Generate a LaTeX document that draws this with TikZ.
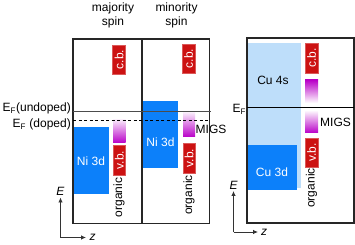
\documentclass[tikz,border=0pt]{standalone}
\usepackage{fontspec}
\setmainfont{Liberation Sans}
\usetikzlibrary{arrows.meta}
\definecolor{niblue}{RGB}{12,128,250}
\definecolor{lightblue}{RGB}{190,222,250}
\definecolor{bandred}{RGB}{204,18,18}
\definecolor{migs}{RGB}{185,0,200}
\definecolor{migslight}{RGB}{248,230,250}
\begin{document}
\begin{tikzpicture}[x=1pt,y=-1pt,
  font=\fontsize{12}{14}\selectfont,
  band/.style={inner sep=0pt,outer sep=0pt,anchor=north west},
  redband/.style={fill=bandred,draw=bandred!70!white,line width=0.5pt,text=white,rotate=90,inner sep=0pt,outer sep=0pt},
  migsdown/.style={band,top color=migslight,bottom color=migs},
  migsup/.style={band,top color=migs,bottom color=white},
  frame/.style={draw=black!85,line width=1.3pt},
  efline/.style={draw=black!70,line width=0.9pt},
  axis/.style={draw=black!80,line width=0.8pt,-{Latex[length=5pt,width=4.5pt]}},
  vlabel/.style={rotate=90,inner sep=0pt}]
\useasboundingbox (0,0) rectangle (355,245);
% ---------- left panel ----------
\node[band,fill=niblue,minimum width=36pt,minimum height=66.5pt] (ni1) at (73,127.5) {};
\node[text=white] (ni1t) at (91,161) {Ni 3d};
\node[band,fill=niblue,minimum width=35pt,minimum height=67pt] (ni2) at (143,101) {};
\node[text=white] (ni2t) at (160.5,142) {Ni 3d};
\node[redband,minimum width=29pt,minimum height=13pt] (cb1) at (119,59.5) {c.b.};
\node[redband,minimum width=29pt,minimum height=13pt] (cb2) at (188.5,58.5) {c.b.};
\node[migsdown,minimum width=12.5pt,minimum height=23pt] (mg1) at (113,120) {};
\node[migsdown,minimum width=12pt,minimum height=24pt] (mg2) at (183,113) {};
\node[redband,minimum width=30pt,minimum height=12.5pt] (vb1) at (119.25,160) {v.b.};
\node[redband,minimum width=30pt,minimum height=12pt] (vb2) at (189,158) {v.b.};
\node[vlabel] (org1) at (119,197.5) {organic};
\node[vlabel] (org2) at (189,195) {organic};
\draw[frame] (73,39) rectangle (209.5,223.5);
\draw[frame] (142,39) -- (142,223.5);
\coordinate (efuL) at (73,111);
\coordinate (efuR) at (211,111);
\draw[efline] (efuL) -- (efuR);
\coordinate (efdL) at (73,120);
\coordinate (efdR) at (210,120);
\draw[black,line width=0.8pt,dash pattern=on 3pt off 2.5pt] (efdL) -- (efdR);
\node[anchor=west,inner sep=0pt] (migs1) at (195.5,129.5) {MIGS};
\node[anchor=east,inner sep=0pt] (efu) at (71,108.5) {E\textsubscript{F}(undoped)};
\node[anchor=east,inner sep=0pt] (efd) at (71,124.5) {E\textsubscript{F} (doped)};
\node[align=center,inner sep=0pt] (maj) at (113,15.5) {majority\\spin};
\node[align=center,inner sep=0pt] (min) at (176.5,15.5) {minority\\spin};
% axes left
\coordinate (o1) at (60.5,237.5);
\coordinate (e1) at (60.5,197.5);
\coordinate (z1) at (86,237.5);
\draw[axis] (o1) -- (e1);
\draw[axis] (o1) -- (z1);
\node[inner sep=0pt] (E1) at (60.5,191) {\itshape E};
\node[inner sep=0pt] (zz1) at (92.5,237.5) {\itshape z};
% ---------- right panel ----------
\node[band,fill=lightblue,minimum width=54pt,minimum height=145pt] (cu4s) at (247,43) {};
\node (cu4st) at (273,80) {Cu 4s};
\node[band,fill=niblue,minimum width=50pt,minimum height=45pt] (cu3d) at (247,145) {};
\node[text=white] (cu3dt) at (272,172) {Cu 3d};
\node[redband,minimum width=30pt,minimum height=13pt] (cb3) at (311.5,58) {c.b.};
\node[migsup,minimum width=13pt,minimum height=23pt] (mg3) at (305,80) {};
\node[band,top color=white,bottom color=migs,minimum width=13pt,minimum height=23pt] (mg4) at (305,110) {};
\node[redband,minimum width=29pt,minimum height=13pt] (vb3) at (311.5,152.5) {v.b.};
\node[vlabel] (org3) at (311.5,188) {organic};
\draw[frame] (247,38) rectangle (354,223);
\coordinate (efL) at (247,108);
\coordinate (efR) at (354,108);
\draw[black,line width=1pt] (efL) -- (efR);
\node[anchor=west,inner sep=0pt] (migs2) at (320,122) {MIGS};
\node[anchor=west,inner sep=0pt] (ef) at (232.5,109.5) {E\textsubscript{F}};
% axes right
\coordinate (o2) at (233.5,232);
\coordinate (e2) at (233.5,191);
\coordinate (z2) at (258,232);
\draw[axis] (o2) -- (e2);
\draw[axis] (o2) -- (z2);
\node[inner sep=0pt] (E2) at (233.5,185) {\itshape E};
\node[inner sep=0pt] (zz2) at (264,232) {\itshape z};
\end{tikzpicture}
\end{document}
